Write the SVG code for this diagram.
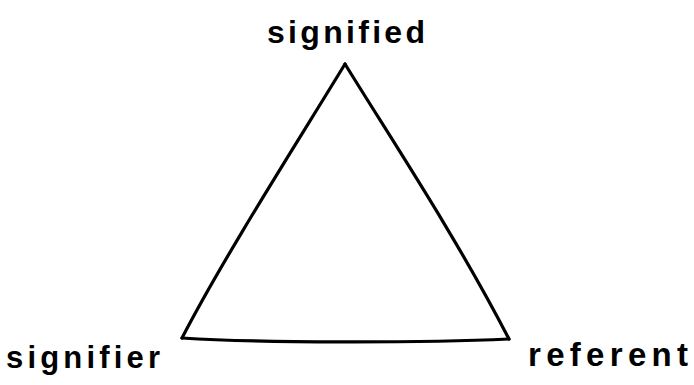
<svg xmlns="http://www.w3.org/2000/svg" width="694" height="385" viewBox="0 0 694 385">
<style>
.lbl{font-family:"Liberation Sans",Arial,sans-serif;font-size:31px;font-weight:bold;fill:#000;}
.edge{fill:none;stroke:#000;stroke-width:3.2;stroke-linecap:round;stroke-linejoin:round;}
</style>
<rect width="694" height="385" fill="#fff"/>
<g id="connectors">
<path class="edge" d="M345,64 C300,138 225,255 182,338"/>
<path class="edge" d="M345,64 C395,145 455,235 509,339"/>
<path class="edge" d="M182,338 C260,343 420,343 509,339"/>
</g>
<g id="signified"><text class="lbl" x="267" y="43" textLength="158" lengthAdjust="spacing" style="font-size:32px">signified</text></g>
<g id="signifier"><text class="lbl" x="6" y="368" textLength="154" lengthAdjust="spacing">signifier</text></g>
<g id="referent"><text class="lbl" x="528" y="366" textLength="160" lengthAdjust="spacing" style="font-size:33px">referent</text></g>
</svg>
